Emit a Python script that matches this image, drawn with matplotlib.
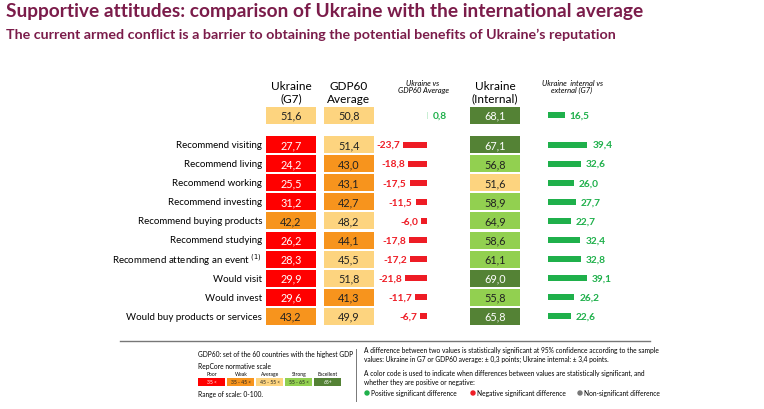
import matplotlib
matplotlib.use("Agg")
import matplotlib.pyplot as plt
from matplotlib.patches import Rectangle, Circle

plt.rcParams['font.family'] = ['Lato', 'DejaVu Sans']

categories = ["Recommend visiting", "Recommend living", "Recommend working", "Recommend investing",
              "Recommend buying products", "Recommend studying", "Recommend attending an event",
              "Would visit", "Would invest", "Would buy products or services"]
total_vals = [51.6, 50.8, 0.8, 68.1, 16.5]
ukr_g7 = [27.7, 24.2, 25.5, 31.2, 42.2, 26.2, 28.3, 29.9, 29.6, 43.2]
gdp60 = [51.4, 43.0, 43.1, 42.7, 48.2, 44.1, 45.5, 51.8, 41.3, 49.9]
diff_gdp = [-23.7, -18.8, -17.5, -11.5, -6.0, -17.8, -17.2, -21.8, -11.7, -6.7]
ukr_int = [67.1, 56.8, 51.6, 58.9, 64.9, 58.6, 61.1, 69.0, 55.8, 65.8]
diff_int = [39.4, 32.6, 26.0, 27.7, 22.7, 32.4, 32.8, 39.1, 26.2, 22.6]

RED, ORANGE, YEL, LGREEN, DGREEN = "#ff0000", "#f7941d", "#fdd47f", "#92d050", "#548235"
GREEN_BAR, RED_BAR = "#1fb04b", "#ee1c25"

def col(v):
    if v < 35: return RED, "white"
    if v < 45: return ORANGE, "#222"
    if v < 55: return YEL, "#222"
    if v < 65: return LGREEN, "#222"
    return DGREEN, "white"

fig = plt.figure(figsize=(7.64, 4.10), dpi=100)
ax = fig.add_axes([0, 0, 1, 1])
ax.set_xlim(0, 764); ax.set_ylim(410, 0); ax.axis("off")

ax.text(6, 12, "Supportive attitudes: comparison of Ukraine with the international average",
        fontsize=13.8, fontweight="bold", color="#7b1c4a", va="center")
ax.text(6, 35, "The current armed conflict is a barrier to obtaining the potential benefits of Ukraine’s reputation",
        fontsize=10.3, fontweight="bold", color="#7b1c4a", va="center")

ax.text(291, 93, "Ukraine\n(G7)", ha="center", va="center", fontsize=8.5, linespacing=1.15)
ax.text(349, 93, "GDP60\nAverage", ha="center", va="center", fontsize=8.5, linespacing=1.15)
ax.text(423, 87, "Ukraine vs\nGDP60 Average", ha="center", va="center", fontsize=5.5, style="italic", linespacing=1.1)
ax.text(495, 93, "Ukraine\n(Internal)", ha="center", va="center", fontsize=8.5, linespacing=1.15)
ax.text(572, 87, "Ukraine  internal vs\nexternal (G7)", ha="center", va="center", fontsize=5.5, style="italic", linespacing=1.1)

W, H = 50, 17
def cell(xc, y, v):
    fc, tc = col(v)
    ax.add_patch(Rectangle((xc - W/2, y - H/2), W, H, facecolor=fc, edgecolor="none"))
    ax.text(xc, y, f"{v:.1f}".replace(".", ","), ha="center", va="center", fontsize=7.8, color=tc)

def fmt(v):
    return f"{v:.1f}".replace(".", ",")

Z1, Z2, SC = 427, 548, 1.0
ty = 116
cell(291, ty, total_vals[0]); cell(349, ty, total_vals[1]); cell(495, ty, total_vals[3])
ax.barh([ty], [total_vals[2]*SC], left=Z1, height=7, color="#c9eed4")
ax.text(Z1 + total_vals[2]*SC + 5, ty, fmt(total_vals[2]), color=GREEN_BAR, fontsize=7.3, fontweight="bold", va="center")
ax.barh([ty], [total_vals[4]*SC], left=Z2, height=6, color=GREEN_BAR)
ax.text(Z2 + total_vals[4]*SC + 5, ty, fmt(total_vals[4]), color=GREEN_BAR, fontsize=7.3, fontweight="bold", va="center")

y0, step = 145.5, 19.1
ys = [y0 + i*step for i in range(len(categories))]
for i, c in enumerate(categories):
    y = ys[i]
    label = c + r"$^{\ (1)}$" if c == "Recommend attending an event" else c
    ax.text(262, y, label, ha="right", va="center", fontsize=7)
    cell(291, y, ukr_g7[i]); cell(349, y, gdp60[i]); cell(495, y, ukr_int[i])
ax.barh(ys, [d*SC for d in diff_gdp], left=Z1, height=6, color=RED_BAR)
for y, d in zip(ys, diff_gdp):
    ax.text(Z1 + d*SC - 3, y, fmt(d), ha="right", va="center", color=RED_BAR, fontsize=7.3, fontweight="bold")
ax.barh(ys, [d*SC for d in diff_int], left=Z2, height=6, color=GREEN_BAR)
for y, d in zip(ys, diff_int):
    ax.text(Z2 + d*SC + 5, y, fmt(d), va="center", color=GREEN_BAR, fontsize=7.3, fontweight="bold")

# footer
ax.plot([120, 650], [342, 342], color="#777", lw=1)
ax.plot([356, 356], [350, 402], color="#777", lw=0.7)
fs = 4.8
ax.text(198, 355, "GDP60: set of the 60 countries with the highest GDP", fontsize=fs, va="center")
ax.text(198, 367, "RepCore normative scale", fontsize=fs, va="center")
scale_lbl = ["Poor", "Weak", "Average", "Strong", "Excellent"]
scale_rng = ["35 <", "35 - 45 <", "45 - 55 <", "55 - 65 <", "65+"]
scale_col = [RED, ORANGE, YEL, LGREEN, DGREEN]
for k in range(5):
    x = 198 + k*29
    ax.text(x + 14, 375, scale_lbl[k], fontsize=3.6, ha="center", va="center")
    ax.add_patch(Rectangle((x, 378.5), 27, 8, facecolor=scale_col[k], edgecolor="none"))
    ax.text(x + 14, 382.5, scale_rng[k], fontsize=3.6, ha="center", va="center",
            color="white" if k in (0, 4) else "#222")
ax.text(198, 395, "Range of scale: 0-100.", fontsize=fs, va="center")
ax.text(364, 355, "A difference between two values is statistically significant at 95% confidence according to the sample\n"
        "values: Ukraine in G7 or GDP60 average: ± 0,3 points; Ukraine internal: ± 3,4 points.", fontsize=fs, va="center", linespacing=1.35)
ax.text(364, 378, "A color code is used to indicate when differences between values are statistically significant, and\n"
        "whether they are positive or negative:", fontsize=fs, va="center", linespacing=1.35)
for x, c, t in [(367, GREEN_BAR, "Positive significant difference"), (473, RED_BAR, "Negative significant difference"),
                (580, "#777", "Non-significant difference")]:
    ax.add_patch(Circle((x, 394), 2, color=c))
    ax.text(x + 4, 394, t, fontsize=fs, va="center")

fig.savefig("out.png", dpi=100)
